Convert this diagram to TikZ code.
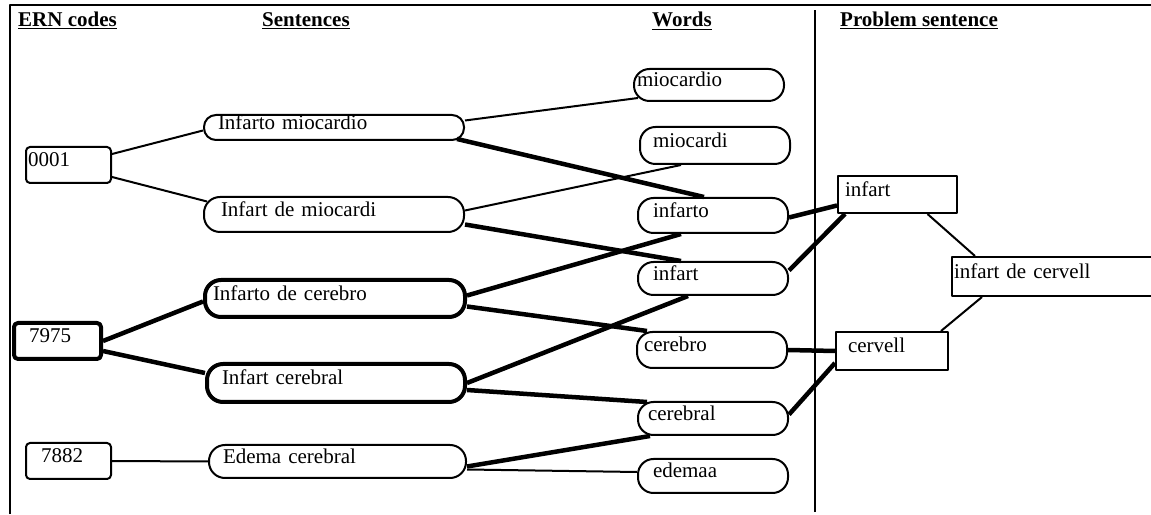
\documentclass[tikz,border=0pt]{standalone}
\usepackage{fontspec}
\setmainfont{Liberation Serif}
\usepackage{tikz}
\usepackage{xcolor}

\begin{document}
\begin{tikzpicture}[
                line join=bevel,
                font=\fontsize{21pt}{24pt}\selectfont,
                codenode/.style={shape=rectangle, rounded corners=4pt, draw=black, line width=2pt, minimum height=36pt, inner xsep=15pt, inner ysep=0pt, text width=55pt, align=left, text height=12pt, text depth=8pt},
                boldcodenode/.style={codenode, line width=4pt},
                sentencenode/.style={shape=rectangle, rounded corners=16pt, draw=black, line width=2pt, minimum height=35pt, inner xsep=15pt, inner ysep=0pt, text width=230pt, align=left, text height=12pt, text depth=8pt},
                boldsentencenode/.style={sentencenode, line width=4pt},
                wordnode/.style={shape=rectangle, rounded corners=15.5pt, draw=black, line width=2pt, minimum height=34pt, inner xsep=15pt, inner ysep=0pt, text width=120pt, align=left, text height=12pt, text depth=8pt},
                problemnode/.style={shape=rectangle, draw=black, line width=2pt, minimum height=37pt, inner ysep=0pt, align=left, text height=12pt, text depth=8pt},
                headnode/.style={anchor=base west, inner sep=0pt, font=\fontsize{21pt}{24pt}\selectfont\bfseries},
                thinlink/.style={line width=2pt},
                boldlink/.style={line width=4.5pt}
                ]
                \clip (0pt, 0pt) rectangle (1151pt, 514pt);
                %% Frame
                \draw[line width=2pt] (10pt, 0pt) -- (10pt, 509pt) -- (1151pt, 509pt);
                \draw[line width=2pt] (815pt, 2pt) -- (815pt, 504pt);

                        % Headers
\node[headnode] (hcodes) at (18pt, 487pt) {\underline{ERN codes}};
\node[headnode] (hsentences) at (262pt, 487pt) {\underline{Sentences}};
\node[headnode] (hwords) at (652pt, 487pt) {\underline{Words}};
\node[headnode] (hproblem) at (840pt, 487pt) {\underline{Problem sentence}};

                        % ERN codes
\node[codenode, anchor=west, inner xsep=2pt, text width=81pt] (c0001) at (25pt, 349pt) {0001};
\node[boldcodenode, anchor=west, text width=57pt] (c7975) at (12pt, 173pt) {7975};
\node[codenode, anchor=west] (c7882) at (25pt, 53pt) {7882};

                        % Sentences
\node[sentencenode, anchor=west, minimum height=25pt, rounded corners=12pt, inner xsep=14pt, text width=232pt] (infartomiocardio) at (203pt, 386.5pt) {Infarto miocardio};
\node[sentencenode, anchor=west, inner xsep=17pt, text width=226pt] (infartdemiocardi) at (203pt, 299.5pt) {Infart de miocardi};
\node[boldsentencenode, anchor=west, minimum height=37pt, inner xsep=8pt, text width=244pt] (infartodecerebro) at (203pt, 215.5pt) {Infarto de cerebro};
\node[boldsentencenode, anchor=west, minimum height=38pt, text width=228pt] (infartcerebral) at (205pt, 131pt) {Infart cerebral};
\node[sentencenode, anchor=west, minimum height=33pt, inner xsep=14pt, text width=229pt] (edemacerebral) at (208pt, 52.5pt) {Edema cerebral};

                        % Words
\node[wordnode, anchor=west, minimum height=32pt, inner xsep=3pt, text width=144pt] (miocardio) at (633pt, 429pt) {miocardio};
\node[wordnode, anchor=west, minimum height=37pt, inner xsep=13pt, text width=124pt] (miocardi) at (639pt, 368.5pt) {miocardi};
\node[wordnode, anchor=west, minimum height=35pt] (infarto) at (637pt, 298.5pt) {infarto};
\node[wordnode, anchor=west, minimum height=33pt] (infart) at (637pt, 235.5pt) {infart};
\node[wordnode, anchor=west, minimum height=36pt, inner xsep=7pt, text width=136pt] (cerebro) at (636pt, 164pt) {cerebro};
\node[wordnode, anchor=west, minimum height=33pt, inner xsep=10pt, text width=130pt] (cerebral) at (637pt, 95.5pt) {cerebral};
\node[wordnode, anchor=west] (edemaa) at (637pt, 38pt) {edemaa};

                        % Problem sentence
\node[problemnode, anchor=west, inner xsep=7pt, text width=105pt] (pinfart) at (837pt, 319.5pt) {infart};
\node[problemnode, anchor=west, minimum height=38pt, inner xsep=12pt, text width=88pt] (pcervell) at (835pt, 163pt) {cervell};
\node[problemnode, anchor=west, minimum height=39pt, inner xsep=2pt, text width=201pt] (pinfartdecervell) at (951pt, 237.5pt) {infart de cervell};

%% Links
\draw[thinlink] ([yshift=11pt]c0001.east) -- ([yshift=-3pt]infartomiocardio.west);
\draw[thinlink] ([yshift=-12pt]c0001.east) -- ([xshift=4pt, yshift=13pt]infartdemiocardi.west);
\draw[boldlink] (c7975.east) -- ([yshift=-3pt]infartodecerebro.west);
\draw[boldlink] ([yshift=-10pt]c7975.east) -- ([yshift=10pt]infartcerebral.west);
\draw[thinlink] (c7882.east) -- (edemacerebral.west);

\draw[thinlink] ([yshift=7pt]infartomiocardio.east) -- ([xshift=5pt, yshift=-13pt]miocardio.west);
\draw[boldlink] ([xshift=-8pt, yshift=2pt]infartomiocardio.south east) -- ([xshift=-9pt]infarto.north);
\draw[thinlink] ([yshift=4pt]infartdemiocardi.east) -- ([xshift=-34pt]miocardi.south);
\draw[boldlink] ([yshift=-10pt]infartdemiocardi.east) -- ([xshift=-32pt]infart.north);
\draw[boldlink] ([yshift=3pt]infartodecerebro.east) -- ([xshift=-32pt]infarto.south);
\draw[boldlink] ([yshift=-8pt]infartodecerebro.east) -- ([xshift=11pt]cerebro.north west);
\draw[boldlink] (infartcerebral.east) -- ([xshift=-25pt]infart.south);
\draw[boldlink] ([yshift=-7pt]infartcerebral.east) -- ([xshift=10pt, yshift=-1pt]cerebral.north west);
\draw[boldlink] ([yshift=-5pt]edemacerebral.east) -- ([xshift=13pt]cerebral.south west);
\draw[thinlink] ([yshift=-8pt]edemacerebral.east) -- ([yshift=4pt]edemaa.west);

\draw[boldlink] ([yshift=-2pt]infarto.east) -- ([yshift=-11pt]pinfart.west);
\draw[boldlink] ([yshift=8pt]infart.east) -- ([xshift=8pt]pinfart.south west);
\draw[boldlink] (cerebro.east) -- (pcervell.west);
\draw[boldlink] ([yshift=4pt]cerebral.east) -- ([yshift=-12pt]pcervell.west);

\draw[thinlink] ([xshift=30pt]pinfart.south) -- ([xshift=24pt]pinfartdecervell.north west);
\draw[thinlink] ([xshift=49pt]pcervell.north) -- ([xshift=31pt]pinfartdecervell.south west);
                    \end{tikzpicture}
\end{document}
